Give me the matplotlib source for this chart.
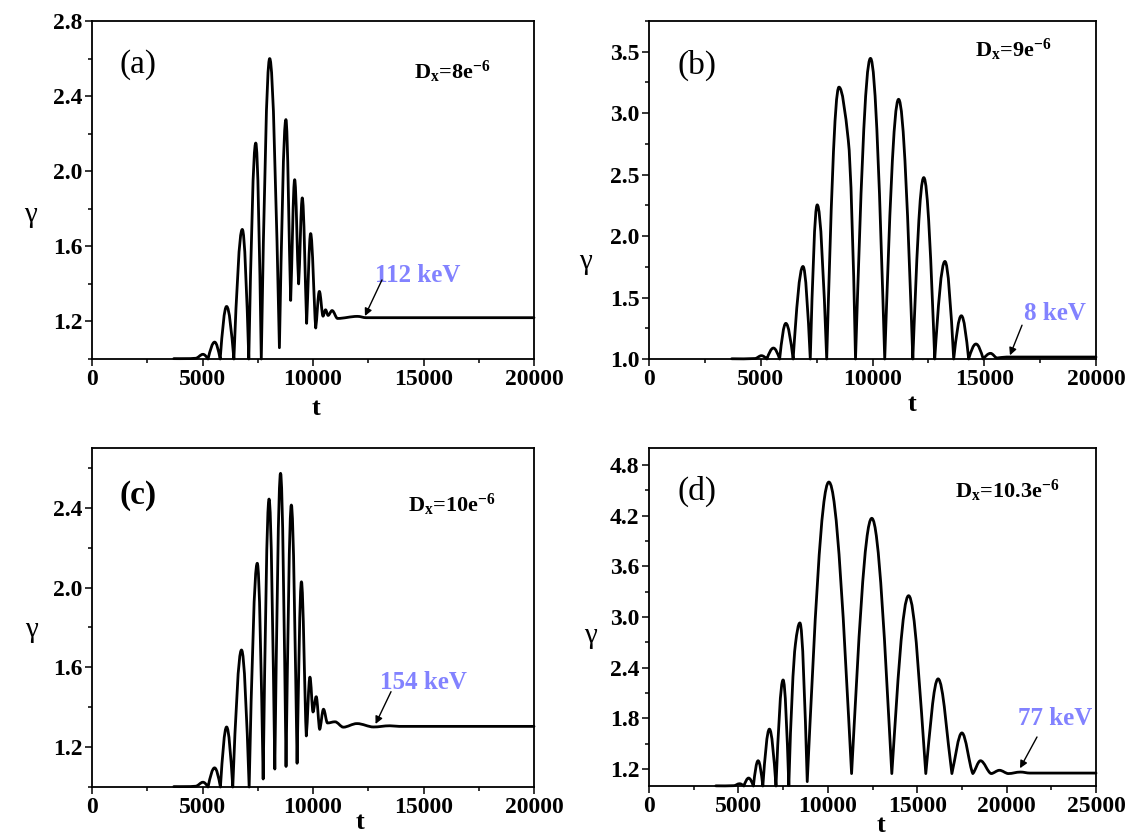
import matplotlib
matplotlib.use("Agg")
import matplotlib.pyplot as plt
from matplotlib.path import Path
from matplotlib.patches import PathPatch
from matplotlib.ticker import MultipleLocator

plt.rcParams.update({
    "font.family": ["Liberation Serif", "DejaVu Serif"],
    "mathtext.fontset": "custom",
    "mathtext.rm": "Liberation Serif",
    "mathtext.bf": "Liberation Serif:bold",
    "mathtext.it": "Liberation Serif:italic",
})

# ---------------- data (extrema) ----------------
t_a = [3700, 4700, 5020, 5250, 5550, 5800, 6090, 6420, 6800, 7095, 7410, 7660,
       8040, 8480, 8775, 8990, 9170, 9350, 9515, 9712, 9893, 10123, 10288,
       10453, 10568, 10683, 10864, 11111, 12016, 12400, 20000]
g_a = [1.002, 1.004, 1.025, 1.000, 1.090, 1.000, 1.280, 1.000, 1.690, 1.000,
       2.150, 1.000, 2.600, 1.060, 2.275, 1.312, 1.955, 1.400, 1.858, 1.190,
       1.668, 1.165, 1.360, 1.228, 1.262, 1.232, 1.258, 1.216, 1.227, 1.220,
       1.220]

t_b = [3700, 4750, 5029, 5273, 5567, 5845, 6122, 6449, 6890, 7216, 7527, 7951,
       8500, 8917, 9240, 9910, 10547, 11167, 11804, 12294, 12784, 13241, 13633,
       13976, 14302, 14629, 14955, 15282, 15560, 16000, 20000]
g_b = [1.002, 1.004, 1.027, 1.000, 1.089, 1.000, 1.290, 1.000, 1.753, 1.000,
       2.254, 1.000, 3.212, 2.780, 1.000, 3.446, 1.000, 3.113, 1.000, 2.476,
       1.000, 1.794, 1.000, 1.352, 1.000, 1.122, 1.000, 1.046, 1.008, 1.016,
       1.016]

t_c = [3700, 4700, 5021, 5250, 5547, 5811, 6091, 6370, 6765, 7111, 7478, 7745,
       8012, 8272, 8532, 8780, 9020, 9280, 9477, 9697, 9862, 10000, 10145,
       10302, 10475, 10655, 10995, 11371, 11990, 12740, 13480, 13900, 20000]
g_c = [1.002, 1.004, 1.024, 1.000, 1.096, 1.000, 1.301, 1.000, 1.687, 1.000,
       2.122, 1.040, 2.444, 1.090, 2.573, 1.103, 2.414, 1.119, 2.029, 1.256,
       1.551, 1.376, 1.453, 1.289, 1.390, 1.321, 1.327, 1.300, 1.318, 1.301,
       1.307, 1.304, 1.304]

t_d = [3735, 4750, 5061, 5306, 5571, 5837, 6102, 6367, 6735, 7102, 7500, 7820,
       8190, 8440, 8850, 10060, 11330, 12460, 13580, 14520, 15480, 16170, 16940,
       17500, 18110, 18540, 19140, 19600, 20100, 20776, 21300, 25000]
g_d = [1.002, 1.004, 1.027, 1.000, 1.094, 1.000, 1.299, 1.000, 1.673, 1.000,
       2.255, 1.005, 2.680, 2.930, 1.052, 4.597, 1.147, 4.168, 1.147, 3.252,
       1.147, 2.268, 1.147, 1.628, 1.147, 1.299, 1.147, 1.186, 1.147, 1.165,
       1.153, 1.153]

panel_labels = ["(a)", "(b)", "(c)", "(d)"]
dx_labels = ["8", "9", "10", "10.3"]
energy_labels = ["112 keV", "8 keV", "154 keV", "77 keV"]
x_max = [20000, 20000, 20000, 25000]
y_lims = [(1.0, 2.8), (1.0, 3.75), (1.0, 2.7), (1.0, 5.0)]
y_major = [0.4, 0.5, 0.4, 0.6]
y_ticks = [[1.2, 1.6, 2.0, 2.4, 2.8], [1.0, 1.5, 2.0, 2.5, 3.0, 3.5],
           [1.2, 1.6, 2.0, 2.4], [1.2, 1.8, 2.4, 3.0, 3.6, 4.2, 4.8]]

# annotation positions: text centre, arrow tail, arrow head (data coords)
text_pos = [(14750, 1.447), (18170, 1.372), (14980, 1.522), (22700, 1.80)]
arrow_tail = [(13120, 1.421), (16690, 1.275), (13530, 1.478), (21700, 1.58)]
arrow_head = [(12350, 1.229), (16150, 1.030), (12830, 1.316), (20750, 1.210)]

series = [(t_a, g_a), (t_b, g_b), (t_c, g_c), (t_d, g_d)]

# ---------------- layout (figure fractions) ----------------
W, H = 1135, 840
boxes = [(92, 534, 21, 359), (649, 1096, 21, 359),
         (92, 534, 448, 787), (649, 1096, 448, 786)]
label_frac = [(0.063, 0.87), (0.063, 0.87), (0.063, 0.861), (0.063, 0.873)]
dx_frac = [(0.728, 0.85), (0.729, 0.914), (0.715, 0.832), (0.685, 0.873)]
ylab_coords = [(-0.14, 0.426), (-0.143, 0.287), (-0.136, 0.463), (-0.132, 0.445)]
xlab_coords = [(0.507, -0.145), (0.588, -0.136), (0.606, -0.105), (0.519, -0.118)]

ANN_COLOR = "#8282FF"


def smooth_path(t, g):
    n = len(t)
    kinds = []
    for i in range(n):
        if i == 0 or i == n - 1:
            kinds.append("flat")
        elif g[i] >= g[i - 1] and g[i] >= g[i + 1]:
            kinds.append("max")
        elif g[i] <= g[i - 1] and g[i] <= g[i + 1]:
            kinds.append("min")
        else:
            kinds.append("mid")

    def slope(i):
        return 0.55 * (g[i + 1] - g[i - 1]) / (t[i + 1] - t[i - 1])

    def sharp(i):
        # how deep a trough is relative to its lower neighbouring peak
        lo = min(g[i - 1], g[i + 1])
        if lo - 1.0 <= 1e-9:
            return 1.0
        return max(0.0, min(1.0, (lo - g[i]) / (lo - 1.0))) ** 1.5

    verts = [(t[0], g[0])]
    codes = [Path.MOVETO]
    for i in range(n - 1):
        tA, gA, tB, gB = t[i], g[i], t[i + 1], g[i + 1]
        dt, dh = tB - tA, gB - gA
        if kinds[i] in ("max", "flat"):
            c1 = (tA + 0.358 * dt, gA)
        elif kinds[i] == "min":
            s = sharp(i)
            c1 = (tA + 0.334 * dt, gA + 0.525 * s * dh)
        else:
            m = slope(i)
            c1 = (tA + dt / 3, gA + m * dt / 3)
        if kinds[i + 1] in ("max", "flat"):
            c2 = (tB - 0.358 * dt, gB)
        elif kinds[i + 1] == "min":
            s = sharp(i + 1)
            c2 = (tB - 0.334 * dt, gB - 0.525 * s * dh)
        else:
            m = slope(i + 1)
            c2 = (tB - dt / 3, gB - m * dt / 3)
        verts += [c1, c2, (tB, gB)]
        codes += [Path.CURVE4] * 3
    return Path(verts, codes)


fig = plt.figure(figsize=(W / 100, H / 100), dpi=100)

for k in range(4):
    l, r, top, bot = boxes[k]
    ax = fig.add_axes([l / W, 1 - bot / H, (r - l) / W, (bot - top) / H])
    t, g = series[k]
    patch = PathPatch(smooth_path(t, g), fill=False, edgecolor="black",
                      lw=2.0, joinstyle="round", capstyle="round", clip_on=False)
    ax.add_patch(patch)

    ax.set_xlim(0, x_max[k])
    ax.set_ylim(*y_lims[k])
    ax.xaxis.set_major_locator(MultipleLocator(5000))
    ax.xaxis.set_minor_locator(MultipleLocator(2500))
    ax.set_yticks(y_ticks[k])
    ax.yaxis.set_minor_locator(MultipleLocator(y_major[k] / 2))
    ax.tick_params(which="both", direction="out", top=False, right=False,
                   width=1.1, labelsize=17, pad=2)
    ax.tick_params(which="major", length=5)
    ax.tick_params(which="minor", length=3)
    for lab in ax.get_xticklabels() + ax.get_yticklabels():
        lab.set_fontweight("bold")
    for sp in ax.spines.values():
        sp.set_linewidth(1.3)

    ax.set_xlabel("t", fontsize=19, fontweight="bold", va="center")
    ax.xaxis.set_label_coords(*xlab_coords[k])
    ax.set_ylabel("γ", fontsize=21, rotation=0, va="center", ha="center")
    ax.yaxis.set_label_coords(*ylab_coords[k])

    ax.text(label_frac[k][0], label_frac[k][1], panel_labels[k],
            transform=ax.transAxes, fontsize=24, va="center", ha="left",
            fontweight="bold" if k == 2 else "normal")
    ax.text(dx_frac[k][0], dx_frac[k][1],
            r"$\mathbf{D}_{\mathbf{x}}$" + "=" + dx_labels[k] + "e" + r"$^{\mathbf{-6}}$",
            transform=ax.transAxes, fontsize=16, fontweight="bold",
            va="center", ha="left")

    ax.text(*text_pos[k], energy_labels[k], color=ANN_COLOR, fontsize=18,
            fontweight="bold", ha="center", va="center")
    ax.annotate("", xy=arrow_head[k], xytext=arrow_tail[k],
                arrowprops=dict(arrowstyle="-|>", color="black", lw=1.0,
                                shrinkA=0, shrinkB=0, mutation_scale=11))

fig.savefig("out.png", dpi=100)
